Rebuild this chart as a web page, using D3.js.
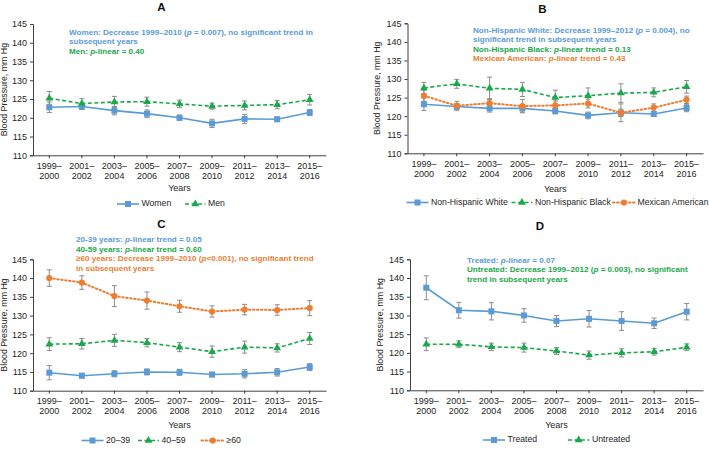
<!DOCTYPE html>
<html><head><meta charset="utf-8">
<script src="https://cdn.jsdelivr.net/npm/d3@7"></script>
<style>
body{margin:0;background:#fff;}
svg{font-family:"Liberation Sans",Arial,sans-serif;}
</style></head><body>
<svg id="c" width="709" height="449"></svg>
<script>
const categories = ["1999–2000","2001–2002","2003–2004","2005–2006","2007–2008","2009–2010","2011–2012","2013–2014","2015–2016"];
const yTicks = [110,115,120,125,130,135,140,145];

// Panel A
const womenVals = [122.8,123.0,121.9,121.1,120.0,118.5,119.7,119.6,121.4];
const womenErr  = [1.4,0.8,1.1,1.0,0.7,1.1,1.2,0.6,0.8];
const menVals   = [125.2,123.8,124.2,124.3,123.7,123.1,123.3,123.5,124.8];
const menErr    = [1.8,1.3,1.5,1.2,1.0,0.8,1.2,1.1,1.4];
// Panel B
const whiteVals = [123.2,122.6,122.1,122.1,121.4,120.2,120.9,120.6,122.2];
const whiteErr  = [1.7,0.8,1.0,1.0,0.8,0.9,1.0,0.7,1.0];
const blackVals = [127.6,128.7,127.5,127.2,125.0,125.5,126.2,126.4,127.9];
const blackErr  = [1.5,1.2,3.0,1.9,2.0,2.1,2.5,1.2,1.7];
const mexVals   = [125.5,122.8,123.5,122.7,122.9,123.4,120.9,122.3,124.4];
const mexErr    = [1.5,1.2,1.2,1.8,1.2,1.2,2.4,1.0,1.0];
// Panel C
const age2039Vals = [114.8,114.0,114.5,115.0,114.9,114.3,114.5,114.9,116.3];
const age2039Err  = [1.9,0.6,0.8,0.8,0.8,0.6,1.1,1.0,0.9];
const age4059Vals = [122.4,122.5,123.4,122.8,121.6,120.4,121.6,121.4,123.9];
const age4059Err  = [1.7,1.4,1.6,1.1,1.2,1.5,1.6,1.1,1.6];
const age60Vals   = [140.0,138.8,135.2,134.0,132.5,131.1,131.6,131.5,132.0];
const age60Err    = [2.2,1.8,2.8,2.3,1.6,1.5,1.4,1.4,2.0];
// Panel D
const treatedVals   = [137.4,131.4,131.1,130.0,128.5,129.1,128.5,127.9,131.0];
const treatedErr    = [3.2,2.1,2.3,1.8,1.5,2.2,2.5,1.4,2.2];
const untreatedVals = [122.3,122.3,121.6,121.4,120.5,119.4,120.0,120.3,121.5];
const untreatedErr  = [1.7,0.9,1.0,1.2,0.9,1.1,1.1,0.9,0.9];

const BLUE="#5b9bd5", GREEN="#1aa84b", ORANGE="#ed7d31";
const styles = {
  solid:{color:BLUE, dash:null, marker:"square"},
  dashed:{color:GREEN, dash:"4,2.5", marker:"triangle"},
  dotted:{color:ORANGE, dash:"1.5,2.5", marker:"circle"}
};

const panels = [
  {title:"A", tx:161.5, ty:8, left:33, right:326, top:24, bottom:155.3,
   series:[{name:"Women",vals:womenVals,err:womenErr,st:"solid"},{name:"Men",vals:menVals,err:menErr,st:"dashed"}],
   notes:[{x:69,y:34.5,parts:[["Women: Decrease 1999–2010 (",0],["p",1],[" = 0.007), no significant trend in",0]],c:BLUE},
          {x:69,y:44,parts:[["subsequent years",0]],c:BLUE},
          {x:69,y:54,parts:[["Men: ",0],["p",1],["-linear = 0.40",0]],c:GREEN}],
   ylabX:5, yearsY:191, catY:168.5, legY:204, legend:[[117,141.5],[185,208]]},
  {title:"B", tx:542.5, ty:10, left:407.5, right:703, top:23.3, bottom:153.3,
   series:[{name:"Non-Hispanic White",vals:whiteVals,err:whiteErr,st:"solid"},{name:"Non-Hispanic Black",vals:blackVals,err:blackErr,st:"dashed"},{name:"Mexican American",vals:mexVals,err:mexErr,st:"dotted"}],
   notes:[{x:473,y:32.5,parts:[["Non-Hispanic White: Decrease 1999–2012 (",0],["p",1],[" = 0.004), no",0]],c:BLUE},
          {x:473,y:42,parts:[["significant trend in subsequent years",0]],c:BLUE},
          {x:473,y:51.5,parts:[["Non-Hispanic Black: ",0],["p",1],["-linear trend = 0.13",0]],c:GREEN},
          {x:473,y:61,parts:[["Mexican American: ",0],["p",1],["-linear trend = 0.43",0]],c:ORANGE}],
   ylabX:378, yearsY:192, catY:167, legY:202.5, legend:[[406.5,431],[511.5,535],[613,637.5]]},
  {title:"C", tx:161.5, ty:225, left:33, right:326, top:259.3, bottom:390.7,
   series:[{name:"20–39",vals:age2039Vals,err:age2039Err,st:"solid"},{name:"40–59",vals:age4059Vals,err:age4059Err,st:"dashed"},{name:"≥60",vals:age60Vals,err:age60Err,st:"dotted"}],
   notes:[{x:76,y:242,parts:[["20-39 years: ",0],["p",1],["-linear trend = 0.05",0]],c:BLUE},
          {x:76,y:251.5,parts:[["40-59 years: ",0],["p",1],["-linear trend = 0.60",0]],c:GREEN},
          {x:76,y:261,parts:[["≥60 years: Decrease 1999–2010 (",0],["p",1],["<0.001), no significant trend",0]],c:ORANGE},
          {x:76,y:270.5,parts:[["in subsequent years",0]],c:ORANGE}],
   ylabX:5, yearsY:427.5, catY:403.5, legY:440.5, legend:[[81.5,106],[138,161.5],[201.5,226.5]]},
  {title:"D", tx:540, ty:227, left:410, right:703, top:259.3, bottom:390.3,
   series:[{name:"Treated",vals:treatedVals,err:treatedErr,st:"solid"},{name:"Untreated",vals:untreatedVals,err:untreatedErr,st:"dashed"}],
   notes:[{x:467,y:262.5,parts:[["Treated: ",0],["p",1],["-linear = 0.07",0]],c:BLUE},
          {x:467,y:272,parts:[["Untreated: Decrease 1999–2012 (",0],["p",1],[" = 0.003), no significant",0]],c:GREEN},
          {x:467,y:281.5,parts:[["trend in subsequent years",0]],c:GREEN}],
   ylabX:381, yearsY:427.5, catY:403.5, legY:440, legend:[[483,507.5],[568,592]]}
];

const svg = d3.select("#c");
const TXT="#262626", AX="#404040", ERR="#8c8c8c";
const FS=9, NOTEFS=8.1, LEGFS=8.7;

function marker(g, type, x, y, color){
  if(type==="square") g.append("rect").attr("x",x-3).attr("y",y-3).attr("width",6).attr("height",6).attr("fill",color);
  else if(type==="triangle") g.append("path").attr("d",d3.symbol(d3.symbolTriangle,26)()).attr("transform",`translate(${x},${y})`).attr("fill",color);
  else g.append("circle").attr("cx",x).attr("cy",y).attr("r",3.1).attr("fill",color);
}

panels.forEach(p=>{
  const g = svg.append("g");
  const x = d3.scaleBand().domain(categories).range([p.left,p.right]);
  const y = d3.scaleLinear().domain([110,145]).range([p.bottom,p.top]);
  const cx = c => x(c)+x.bandwidth()/2;

  g.append("text").attr("x",p.tx).attr("y",p.ty).attr("text-anchor","middle").attr("dominant-baseline","middle")
    .attr("font-size",11.5).attr("font-weight","bold").attr("fill","#111").text(p.title);

  const ya = g.append("g").attr("transform",`translate(${p.left},0)`).call(d3.axisLeft(y).tickValues(yTicks).tickSize(3).tickPadding(3));
  ya.select(".domain").attr("stroke",AX);
  ya.selectAll("line").attr("stroke",AX);
  ya.selectAll("text").attr("font-size",FS).attr("fill",TXT).attr("font-family","Liberation Sans, Arial, sans-serif");
  const xa = g.append("g").attr("transform",`translate(0,${p.bottom})`).call(d3.axisBottom(x).tickSize(3).tickSizeOuter(0).tickFormat(""));
  xa.select(".domain").attr("stroke",AX);
  xa.selectAll("line").attr("stroke",AX);
  categories.forEach(c=>{
    const [a,b] = c.split("–");
    const t = g.append("text").attr("x",cx(c)).attr("y",p.catY).attr("text-anchor","middle").attr("font-size",FS).attr("fill",TXT);
    t.append("tspan").attr("x",cx(c)).text(a+"–");
    t.append("tspan").attr("x",cx(c)).attr("dy",10).text(b);
  });
  g.append("text").attr("x",(p.left+p.right)/2).attr("y",p.yearsY).attr("text-anchor","middle").attr("font-size",FS).attr("fill",TXT).text("Years");
  g.append("text").attr("transform",`translate(${p.ylabX},${(p.top+p.bottom)/2}) rotate(-90)`).attr("text-anchor","middle")
    .attr("dominant-baseline","middle").attr("font-size",8.8).attr("fill",TXT).text("Blood Pressure, mm Hg");

  p.series.forEach(s=>{
    s.vals.forEach((v,i)=>{
      const xc = cx(categories[i]);
      const eg = g.append("g").attr("stroke",ERR).attr("stroke-width",1);
      eg.append("line").attr("x1",xc).attr("x2",xc).attr("y1",y(v-s.err[i])).attr("y2",y(v+s.err[i]));
      eg.append("line").attr("x1",xc-2.5).attr("x2",xc+2.5).attr("y1",y(v-s.err[i])).attr("y2",y(v-s.err[i]));
      eg.append("line").attr("x1",xc-2.5).attr("x2",xc+2.5).attr("y1",y(v+s.err[i])).attr("y2",y(v+s.err[i]));
    });
  });
  p.series.forEach(s=>{
    const st = styles[s.st];
    const line = d3.line().x((v,i)=>cx(categories[i])).y(v=>y(v));
    g.append("path").attr("d",line(s.vals)).attr("fill","none").attr("stroke",st.color).attr("stroke-width",s.st==="dotted"?2:1.6)
      .attr("stroke-dasharray",st.dash).attr("stroke-linecap",s.st==="dotted"?"round":"butt");
    s.vals.forEach((v,i)=>marker(g,st.marker,cx(categories[i]),y(v),st.color));
  });

  p.notes.forEach(n=>{
    const t = g.append("text").attr("x",n.x).attr("y",n.y).attr("font-size",NOTEFS).attr("font-weight","bold").attr("fill",n.c);
    n.parts.forEach(pt=>t.append("tspan").attr("font-style",pt[1]?"italic":"normal").text(pt[0]));
  });

  p.series.forEach((s,i)=>{
    const st = styles[s.st];
    const [x0,tx] = p.legend[i];
    const x1 = tx-2.5;
    g.append("line").attr("x1",x0).attr("x2",x1).attr("y1",p.legY).attr("y2",p.legY).attr("stroke",st.color)
      .attr("stroke-width",s.st==="dotted"?2:1.6).attr("stroke-dasharray",st.dash).attr("stroke-linecap",s.st==="dotted"?"round":"butt");
    marker(g,st.marker,(x0+x1)/2,p.legY,st.color);
    g.append("text").attr("x",tx).attr("y",p.legY).attr("dominant-baseline","middle").attr("font-size",LEGFS).attr("fill",TXT).text(s.name);
  });
});
</script>
</body></html>
